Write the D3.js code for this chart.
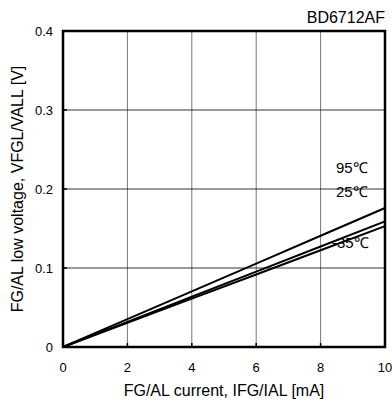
<!DOCTYPE html>
<html>
<head>
<meta charset="utf-8">
<script src="https://cdn.jsdelivr.net/npm/d3@7"></script>
<style>
  body { margin: 0; background: #fff; }
  text { font-family: "Liberation Sans", Arial, sans-serif; fill: #000; }
</style>
</head>
<body>
<div id="chart"></div>
<script>
// current in mA
var current = [0, 2, 4, 6, 8, 10];
// low voltage in V for each temperature
var v95 = [0, 0.0352, 0.0704, 0.1056, 0.1408, 0.176];
var v25 = [0, 0.0318, 0.0636, 0.0954, 0.1272, 0.159];
var vm35 = [0, 0.0306, 0.0612, 0.0918, 0.1224, 0.153];
var seriesNames = ["95\u2103", "25\u2103", "-35\u2103"];
var xTicks = [0, 2, 4, 6, 8, 10];
var yTicks = [0, 0.1, 0.2, 0.3, 0.4];

var svg_width = 392, svg_height = 403;
var margins = { top: 31, bottom: 56, left: 63, right: 7 };
var width = svg_width - margins.left - margins.right;
var height = svg_height - margins.top - margins.bottom;

var svg = d3.select("#chart").append("svg")
  .attr("width", svg_width)
  .attr("height", svg_height);

var g = svg.append("g")
  .attr("transform", "translate(" + margins.left + "," + margins.top + ")");

var x = d3.scaleLinear().domain([0, 10]).range([0, width]);
var y = d3.scaleLinear().domain([0, 0.4]).range([height, 0]);

// grid lines
g.append("g").selectAll("line")
  .data(xTicks.slice(1, -1))
  .enter().append("line")
  .attr("x1", d => x(d)).attr("x2", d => x(d))
  .attr("y1", 0).attr("y2", height)
  .style("stroke", "#777").style("stroke-width", 1);

g.append("g").selectAll("line")
  .data(yTicks.slice(1, -1))
  .enter().append("line")
  .attr("x1", 0).attr("x2", width)
  .attr("y1", d => y(d)).attr("y2", d => y(d))
  .style("stroke", "#000").style("stroke-width", 0.8);

// small inward ticks
g.append("g").selectAll("line")
  .data(xTicks.slice(1, -1))
  .enter().append("line")
  .attr("x1", d => x(d)).attr("x2", d => x(d))
  .attr("y1", height).attr("y2", height - 4)
  .style("stroke", "#000").style("stroke-width", 1.5);

g.append("g").selectAll("line")
  .data(yTicks.slice(1, -1))
  .enter().append("line")
  .attr("x1", 0).attr("x2", 4)
  .attr("y1", d => y(d)).attr("y2", d => y(d))
  .style("stroke", "#000").style("stroke-width", 1.5);

// curves
var line = d3.line()
  .x((d, i) => x(current[i]))
  .y(d => y(d));

[v95, v25, vm35].forEach(function(s) {
  g.append("path")
    .datum(s)
    .attr("d", line)
    .style("fill", "none")
    .style("stroke", "#000")
    .style("stroke-width", 2);
});

// frame
g.append("rect")
  .attr("width", width).attr("height", height)
  .style("fill", "none").style("stroke", "#000").style("stroke-width", 2.5);

// tick labels
g.append("g").selectAll("text")
  .data(xTicks)
  .enter().append("text")
  .attr("x", d => x(d)).attr("y", height + 25)
  .attr("text-anchor", "middle")
  .style("font-size", "13px")
  .text(d => d);

g.append("g").selectAll("text")
  .data(yTicks)
  .enter().append("text")
  .attr("x", -10).attr("y", d => y(d) + 5)
  .attr("text-anchor", "end")
  .style("font-size", "13px")
  .text(d => d);

// temperature labels
var labelPos = [[273, 142], [273, 166], [269, 217]];
seriesNames.forEach(function(n, i) {
  g.append("text")
    .attr("x", labelPos[i][0]).attr("y", labelPos[i][1])
    .style("font-size", "15px")
    .text(n);
});

// title
svg.append("text")
  .attr("x", 385).attr("y", 23)
  .attr("text-anchor", "end")
  .style("font-size", "16px")
  .text("BD6712AF");

// axis titles
svg.append("text")
  .attr("x", margins.left + width / 2).attr("y", 396)
  .attr("text-anchor", "middle")
  .style("font-size", "16px")
  .text("FG/AL current, IFG/IAL [mA]");

svg.append("text")
  .attr("transform", "translate(23," + (margins.top + height / 2) + ") rotate(-90)")
  .attr("text-anchor", "middle")
  .style("font-size", "16px")
  .text("FG/AL low voltage, VFGL/VALL [V]");
</script>
</body>
</html>
